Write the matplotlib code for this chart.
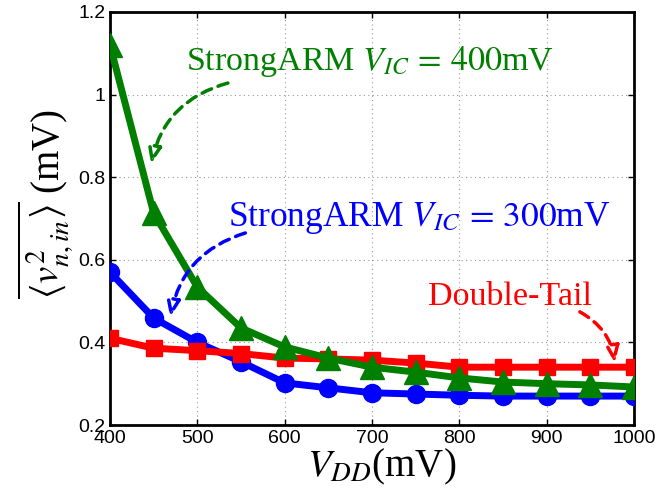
import matplotlib
matplotlib.use("Agg")
import matplotlib.pyplot as plt

vdd = [400, 450, 500, 550, 600, 650, 700, 750, 800, 850, 900, 950, 1000]
sa400 = [1.12, 0.713, 0.534, 0.435, 0.389, 0.362, 0.340, 0.328, 0.314, 0.304, 0.300, 0.297, 0.292]
sa300 = [0.570, 0.459, 0.400, 0.353, 0.302, 0.290, 0.278, 0.275, 0.272, 0.270, 0.270, 0.270, 0.270]
dtail = [0.410, 0.386, 0.380, 0.373, 0.362, 0.360, 0.357, 0.350, 0.340, 0.340, 0.340, 0.340, 0.340]

xticks = [400, 500, 600, 700, 800, 900, 1000]
yticks = [0.2, 0.4, 0.6, 0.8, 1.0, 1.2]
yticklabels = ["0.2", "0.4", "0.6", "0.8", "1", "1.2"]

plt.rcParams['mathtext.fontset'] = 'stix'
plt.rcParams['font.family'] = ['Liberation Sans', 'DejaVu Sans']

fig = plt.figure(figsize=(6.59, 4.93), dpi=100)
ax = fig.add_axes([110/659, 1-425/493, 524/659, 413/493])

green = '#007f00'
ax.plot(vdd, sa300, color='blue', lw=5, marker='o', ms=13, zorder=3)
ax.plot(vdd, dtail, color='red', lw=5, marker='s', ms=11.5, zorder=4)
ax.plot(vdd, sa400, color=green, lw=5, marker='^', ms=17, zorder=5)

ax.set_xlim(400, 1000)
ax.set_ylim(0.2, 1.2)
ax.set_xticks(xticks)
ax.set_yticks(yticks)
ax.set_yticklabels(yticklabels)
ax.tick_params(direction='in', labelsize=14, top=True, right=True, length=4, width=1)
ax.grid(True, linestyle=(0, (1, 3)), color='#999999', lw=0.8)
for s in ax.spines.values():
    s.set_linewidth(2)

ax.set_xlabel(r'$V_{DD}$(mV)', fontsize=28, family='Liberation Serif', labelpad=0)
ax.set_ylabel(r'$\overline{\langle v^2_{n,in}\rangle}$ (mV)', fontsize=28, family='Liberation Serif', labelpad=2)
ax.xaxis.label.set_x(0.519)
ax.yaxis.label.set_y(0.535)

tfont = dict(family='Liberation Serif', ha='center', va='center')
ax.text(698, 1.08, r'StrongARM $V_{IC}\,=\,400$mV', color=green, fontsize=24.5, **tfont)
ax.text(754, 0.70, r'StrongARM $V_{IC}\,=\,300$mV', color='blue', fontsize=25.5, **tfont)
ax.text(858, 0.51, 'Double-Tail', color='red', fontsize=24.5, **tfont)

def arrow(start, end, color, rad):
    ax.annotate('', xy=end, xytext=start,
                arrowprops=dict(arrowstyle='-|>,head_length=1.0,head_width=0.4', linestyle=(0, (3, 2)),
                                connectionstyle='arc3,rad=%s' % rad, color=color, fc='white', lw=2.5,
                                shrinkA=0, shrinkB=0), zorder=6)

arrow((535, 1.028), (447, 0.832), green, 0.3)
arrow((555, 0.665), (469, 0.461), 'blue', 0.3)
arrow((938, 0.474), (978, 0.350), 'red', -0.25)

fig.savefig('out.png', dpi=100)
